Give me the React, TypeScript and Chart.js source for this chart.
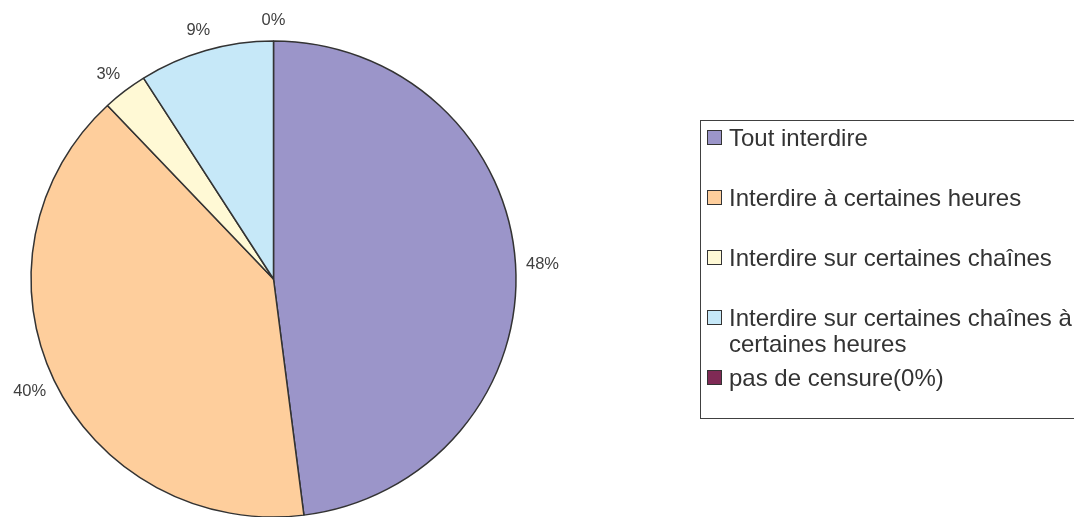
import React, { useEffect, useRef } from 'react';
import { Chart, registerables } from 'chart.js';

Chart.register(...registerables);

const categories = [
  'Tout interdire',
  'Interdire à certaines heures',
  'Interdire sur certaines chaînes',
  'Interdire sur certaines chaînes à certaines heures',
  'pas de censure(0%)',
];
const percentages = [48, 40, 3, 9, 0];
const sliceColors = ['#9B95C9', '#FECE9C', '#FFF9D5', '#C6E8F8', '#7F2A55'];

const W = 1074;
const H = 517;
const CANVAS_H = 560;
const CX = 273.5;
const CY = 279;
const RX = 242.5;
const RY = 238;
const FONT = '"Liberation Sans", Arial, Helvetica, sans-serif';

const ellipsePlugin = {
  id: 'ellipseScale',
  beforeDatasetsDraw(chart: any) {
    const meta = chart.getDatasetMeta(0);
    const a = meta.data[0];
    const ctx = chart.ctx;
    ctx.save();
    ctx.translate(a.x, a.y);
    ctx.scale(1, RY / RX);
    ctx.translate(-a.x, -a.y);
  },
  afterDatasetsDraw(chart: any) {
    chart.ctx.restore();
  },
};

const labelPlugin = {
  id: 'pctLabels',
  afterDraw(chart: any) {
    const ctx = chart.ctx;
    const meta = chart.getDatasetMeta(0);
    const k = RY / RX;
    const size = 16.5;
    ctx.save();
    ctx.font = `${size}px ${FONT}`;
    ctx.fillStyle = '#404040';
    ctx.textAlign = 'center';
    ctx.textBaseline = 'alphabetic';
    meta.data.forEach((arc: any, i: number) => {
      const p = arc.getProps(['x', 'y', 'startAngle', 'endAngle', 'outerRadius'], true);
      const mid = (p.startAngle + p.endAngle) / 2;
      const px = p.x + Math.cos(mid) * (p.outerRadius + 27);
      const py = p.y + Math.sin(mid) * (p.outerRadius * k + 22);
      ctx.fillText(percentages[i] + '%', px, py + size * 0.358);
    });
    ctx.restore();
  },
};

function wrapText(ctx: CanvasRenderingContext2D, text: string, maxW: number): string[] {
  const words = text.split(' ');
  const lines: string[] = [];
  let cur = '';
  for (const w of words) {
    const test = cur ? cur + ' ' + w : w;
    if (cur && ctx.measureText(test).width > maxW) {
      lines.push(cur);
      cur = w;
    } else {
      cur = test;
    }
  }
  if (cur) lines.push(cur);
  return lines;
}

const legendPlugin = {
  id: 'boxLegend',
  afterDraw(chart: any) {
    const ctx = chart.ctx;
    ctx.save();
    ctx.strokeStyle = '#404040';
    ctx.lineWidth = 1;
    ctx.strokeRect(700.5, 120.5, 420, 298);
    ctx.font = `24px ${FONT}`;
    ctx.textAlign = 'left';
    ctx.textBaseline = 'alphabetic';
    categories.forEach((label, i) => {
      const base = 146 + i * 60;
      ctx.fillStyle = sliceColors[i];
      ctx.fillRect(707, base - 16, 15, 15);
      ctx.strokeStyle = '#333333';
      ctx.strokeRect(707.5, base - 15.5, 14, 14);
      ctx.fillStyle = '#333333';
      const lines = wrapText(ctx, label, 360);
      lines.forEach((ln, j) => ctx.fillText(ln, 729, base + j * 26));
    });
    ctx.restore();
  },
};

export default function App() {
  const ref = useRef<HTMLCanvasElement>(null);
  useEffect(() => {
    const chart = new Chart(ref.current as HTMLCanvasElement, {
      type: 'pie',
      data: {
        labels: categories,
        datasets: [
          {
            data: percentages,
            backgroundColor: sliceColors,
            borderColor: '#333333',
            borderWidth: 1.5,
            radius: RX,
          } as any,
        ],
      },
      options: {
        responsive: false,
        animation: false,
        events: [],
        layout: {
          padding: { left: 0, top: 0, right: W - 2 * CX, bottom: CANVAS_H - 2 * CY },
        },
        plugins: {
          legend: { display: false },
          tooltip: { enabled: false },
        },
      } as any,
      plugins: [ellipsePlugin, labelPlugin, legendPlugin],
    });
    return () => chart.destroy();
  }, []);
  return (
    <div
      style={{
        position: 'fixed',
        left: 0,
        top: 0,
        width: W,
        height: H,
        overflow: 'hidden',
        background: '#ffffff',
      }}
    >
      <canvas
        ref={ref}
        width={W}
        height={CANVAS_H}
        style={{ display: 'block', width: W, height: CANVAS_H }}
      />
    </div>
  );
}
